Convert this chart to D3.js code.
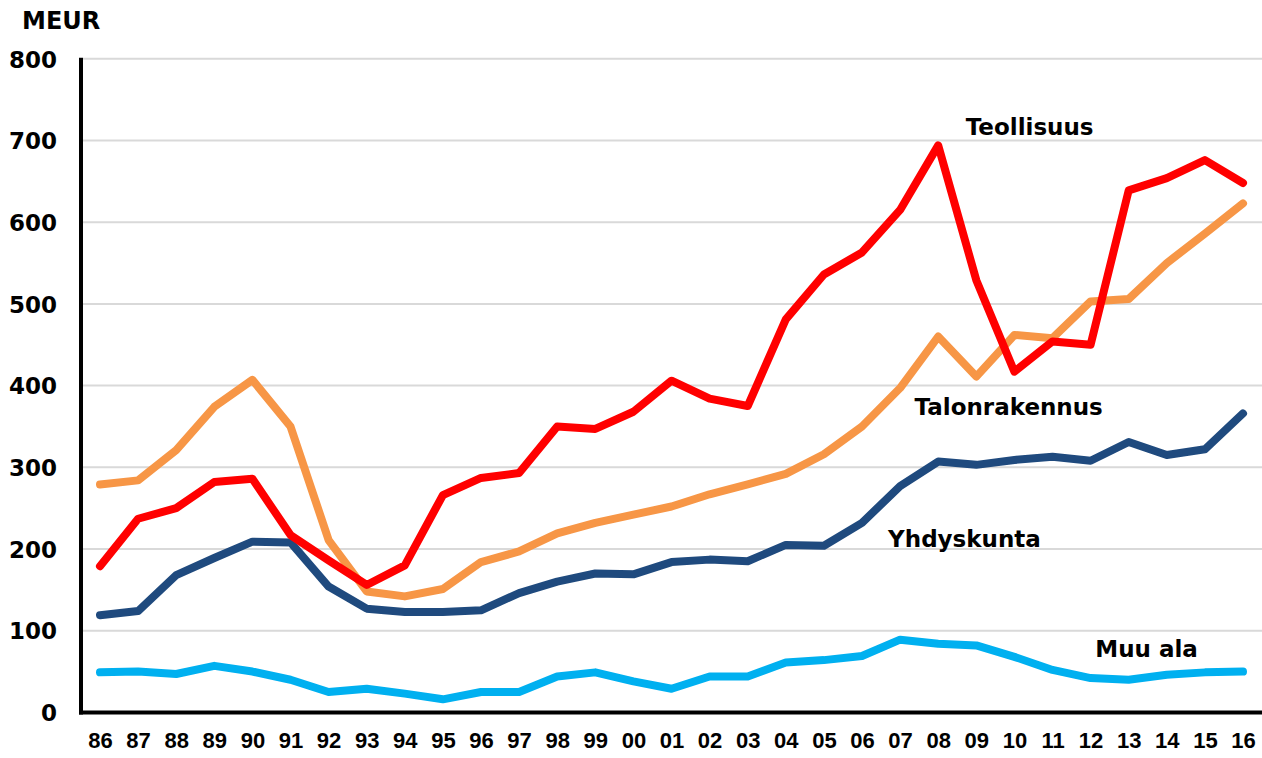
<!DOCTYPE html>
<html lang="fi">
<head>
<meta charset="UTF-8">
<title>MEUR</title>
<script src="https://d3js.org/d3.v7.min.js"></script>
<style>
  html, body { margin: 0; background: #fff; }
  svg text { font-family: "DejaVu Sans", Verdana, sans-serif; font-weight: bold; fill: #000; }
  .x-axis text { font-family: "Liberation Sans", Arial, sans-serif; }
</style>
</head>
<body>
<div id="chart"></div>
<script>
// vuodet 1986-2016
var years = ["86","87","88","89","90","91","92","93","94","95","96","97","98","99","00",
             "01","02","03","04","05","06","07","08","09","10","11","12","13","14","15","16"];
var yTicks = [0, 100, 200, 300, 400, 500, 600, 700, 800];

var teollisuus = [179,237,250,282,286,217,186,156,180,266,287,293,350,347,368,406,384,375,481,536,563,615,694,529,417,454,450,639,654,676,648];
var talonrakennus = [279,284,321,374,407,350,211,148,142,151,184,197,219,232,242,252,267,279,292,316,350,397,460,411,462,458,503,506,550,586,623];
var yhdyskunta = [119,124,168,189,209,208,154,127,123,123,125,146,160,170,169,184,187,185,205,204,232,277,307,303,309,313,308,331,315,322,366];
var muuAla = [49,50,47,57,50,40,25,29,23,16,25,25,44,49,38,29,44,44,61,64,69,89,84,82,68,52,42,40,46,49,50];

var seriesNames = ["Talonrakennus", "Yhdyskunta", "Muu ala", "Teollisuus"];
var seriesColors = ["#f79646", "#1f4a7e", "#00b0f0", "#ff0000"];
var seriesValues = [talonrakennus, yhdyskunta, muuAla, teollisuus];
// nimien paikat: vuosi-indeksi ja arvo
var labelIdx = [23.85, 22.69, 27.47, 24.4];
var labelVal = [364, 202.5, 68, 706.5];

var width = 1262, height = 758;
var svg = d3.select("#chart").append("svg")
    .attr("width", width)
    .attr("height", height);

var x = d3.scaleLinear().domain([0, years.length - 1]).range([100, 1243]);
var y = d3.scaleLinear().domain([0, 800]).range([712.4, 58.8]);

// vaakaviivat
svg.append("g")
    .selectAll("line")
    .data(yTicks.filter(function (d) { return d > 0; }))
    .enter().append("line")
    .attr("x1", 83).attr("x2", width)
    .attr("y1", function (d) { return y(d); })
    .attr("y2", function (d) { return y(d); })
    .attr("stroke", "#d9d9d9")
    .attr("stroke-width", 2);

// y-akseli
var yAxis = svg.append("g")
    .attr("transform", "translate(81,0)")
    .call(d3.axisLeft(y).tickValues(yTicks).tickSize(0).tickPadding(24));
yAxis.select(".domain").attr("stroke", "#000").attr("stroke-width", 4)
    .attr("d", "M0," + (y(800) - 1) + "V" + (y(0) + 2));
yAxis.selectAll("text").style("font-size", "23px").attr("dy", "0.36em");

// x-akseli
var xAxis = svg.append("g")
    .attr("class", "x-axis")
    .attr("transform", "translate(0," + y(0) + ")")
    .call(d3.axisBottom(x)
        .tickValues(d3.range(years.length))
        .tickFormat(function (i) { return years[i]; })
        .tickSize(0).tickPadding(20));
xAxis.select(".domain").attr("stroke", "#000").attr("stroke-width", 4)
    .attr("d", "M79,0H" + width);
xAxis.selectAll("text").style("font-size", "22px").style("font-family", "'Liberation Sans', Arial, sans-serif");

// viivat
var line = d3.line()
    .x(function (d, i) { return x(i); })
    .y(function (d) { return y(d); });

svg.append("g")
    .selectAll("path")
    .data(seriesValues)
    .enter().append("path")
    .attr("d", line)
    .attr("fill", "none")
    .attr("stroke", function (d, i) { return seriesColors[i]; })
    .attr("stroke-width", 8)
    .attr("stroke-linecap", "round")
    .attr("stroke-linejoin", "round");

// sarjojen nimet
svg.append("g")
    .selectAll("text")
    .data(seriesNames)
    .enter().append("text")
    .attr("x", function (d, i) { return x(labelIdx[i]); })
    .attr("y", function (d, i) { return y(labelVal[i]); })
    .attr("text-anchor", "middle")
    .style("font-size", "23px")
    .text(function (d) { return d; });

svg.append("text")
    .attr("x", 22)
    .attr("y", 29)
    .style("font-size", "24px")
    .text("MEUR");
</script>
</body>
</html>
